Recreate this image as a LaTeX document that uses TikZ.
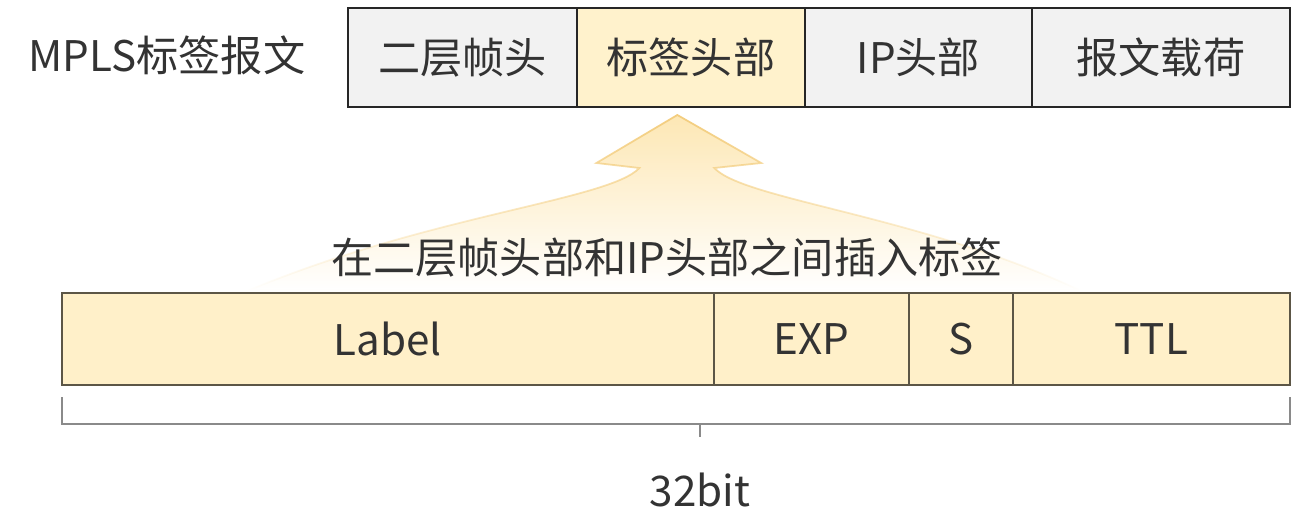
\documentclass[tikz,border=0pt]{standalone}
\usepackage{fontspec}
\setmainfont{Noto Sans CJK SC}
\usetikzlibrary{positioning,fadings}

\definecolor{txtgray}{HTML}{333333}
\definecolor{hdrgray}{HTML}{F2F2F2}
\definecolor{lblyellow}{HTML}{FFF2CC}
\definecolor{fieldyellow}{HTML}{FFF0C9}
\definecolor{fieldedge}{HTML}{5C5646}
\definecolor{arrowfill}{HTML}{FDE7B4}
\definecolor{arrowedge}{HTML}{F3CD7E}
\definecolor{bracegray}{HTML}{8A8A8A}

\tikzset{
  txt/.style={font=\fontsize{24}{28}\selectfont, text=txtgray},
  hdrbox/.style={txt, draw=black!85, line width=1.4pt, fill=hdrgray,
    minimum height=1.98cm, inner sep=0pt, outer sep=0pt},
  fieldbox/.style={txt, draw=fieldedge, line width=1pt, fill=fieldyellow,
    minimum height=1.84cm, inner sep=0pt, outer sep=0pt},
}

\begin{document}
\begin{tikzpicture}[x=0.02cm, y=-0.02cm]
  \useasboundingbox (0,0) rectangle (1304,515);

  % packet header row
  \node[hdrbox, minimum width=4.58cm, anchor=north west] (l2) at (348,8) {二层帧头};
  \node[hdrbox, minimum width=4.56cm, fill=lblyellow, right=0pt of l2] (lblhdr) {标签头部};
  \node[hdrbox, minimum width=4.54cm, right=0pt of lblhdr] (iphdr) {IP头部};
  \node[hdrbox, minimum width=5.16cm, right=0pt of iphdr] (payload) {报文载荷};
  \node[txt, anchor=center] (pkt) at (167,55) {MPLS标签报文};

  % faded arrow
  \path[fill=arrowfill, draw=arrowedge, line width=1pt, path fading=south]
    (678,115) -- (597,163) -- (640,168)
    .. controls (610,200) and (430,215) .. (250,290)
    -- (1080,290)
    .. controls (920,215) and (745,200) .. (715,168)
    -- (762,163) -- cycle;
  \node[txt] (insert) at (667,258) {在二层帧头部和IP头部之间插入标签};

  % label fields
  \node[fieldbox, minimum width=13.04cm, anchor=north west] (label) at (62,293) {Label};
  \node[fieldbox, minimum width=3.90cm, right=0pt of label] (exp) {EXP};
  \node[fieldbox, minimum width=2.08cm, right=0pt of exp] (sbit) {S};
  \node[fieldbox, minimum width=5.54cm, right=0pt of sbit] (ttl) {TTL};

  % 32 bit span
  \coordinate (bl) at (62,397);
  \coordinate (br) at (1290,397);
  \coordinate (bm) at (700,424);
  \draw[bracegray, line width=1.6pt] (bl) -- (bl |- bm) -- (br |- bm) -- (br);
  \node[txt] (width) at (700,490) {32bit};
  \draw[bracegray, line width=1.4pt] (bm) -- (width.north |- 0,437);
\end{tikzpicture}
\end{document}
